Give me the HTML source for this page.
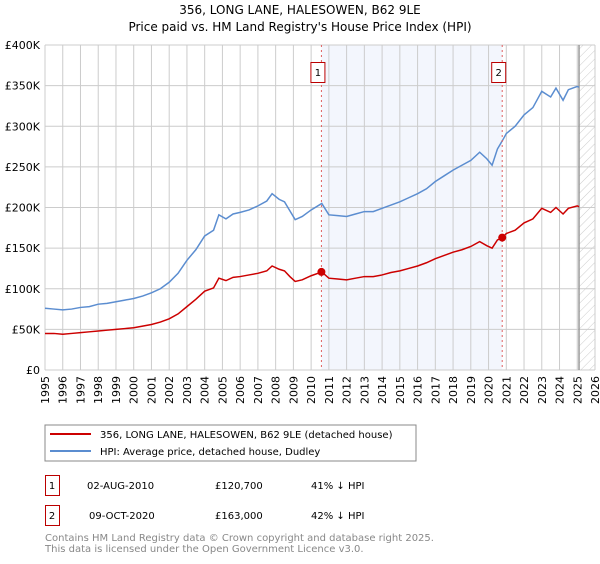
<!DOCTYPE html>
<html><head><meta charset="utf-8"><style>
body{margin:0;background:#fff;font-family:"DejaVu Sans","Liberation Sans",sans-serif;}
svg text{font-family:"DejaVu Sans","Liberation Sans",sans-serif;}
</style></head><body>
<svg id="c" width="600" height="560" xmlns="http://www.w3.org/2000/svg">
<defs><pattern id="hatch" width="6" height="6" patternUnits="userSpaceOnUse" patternTransform="rotate(45)"><line x1="0" y1="0" x2="0" y2="6" stroke="#ccc" stroke-width="1"/></pattern></defs>
<text x="300" y="14" text-anchor="middle" font-size="12">356, LONG LANE, HALESOWEN, B62 9LE</text>
<text x="300" y="31" text-anchor="middle" font-size="12">Price paid vs. HM Land Registry's House Price Index (HPI)</text>
<g id="plot"></g>
<rect x="45" y="425" width="371" height="36" fill="#fff" stroke="#888"/>
<line x1="50" y1="434" x2="91" y2="434" stroke="#cc0000" stroke-width="2"/>
<text x="100" y="438" font-size="10">356, LONG LANE, HALESOWEN, B62 9LE (detached house)</text>
<line x1="50" y1="451" x2="91" y2="451" stroke="#5b8dd0" stroke-width="2"/>
<text x="100" y="455" font-size="10">HPI: Average price, detached house, Dudley</text>
<g font-size="10">
<rect x="45.5" y="475.5" width="14" height="20" fill="none" stroke="#b00"/>
<text x="52" y="489" text-anchor="middle">1</text>
<text x="87" y="489">02-AUG-2010</text><text x="215" y="489">£120,700</text><text x="311" y="489">41% ↓ HPI</text>
<rect x="45.5" y="505.5" width="14" height="20" fill="none" stroke="#b00"/>
<text x="52" y="519" text-anchor="middle">2</text>
<text x="89" y="519">09-OCT-2020</text><text x="215" y="519">£163,000</text><text x="311" y="519">42% ↓ HPI</text>
</g>
<text x="45" y="541" font-size="10" fill="#888">Contains HM Land Registry data © Crown copyright and database right 2025.</text>
<text x="45" y="552" font-size="10" fill="#888">This data is licensed under the Open Government Licence v3.0.</text>
</svg>
<script>
const years=[1995,1995.5,1996,1996.5,1997,1997.5,1998,1998.5,1999,1999.5,2000,2000.5,2001,2001.5,2002,2002.5,2003,2003.5,2004,2004.5,2004.8,2005.2,2005.6,2006,2006.5,2007,2007.5,2007.8,2008.2,2008.5,2008.8,2009.1,2009.5,2010,2010.6,2011,2011.5,2012,2012.5,2013,2013.5,2014,2014.5,2015,2015.5,2016,2016.5,2017,2017.5,2018,2018.5,2019,2019.5,2019.9,2020.2,2020.5,2020.8,2021,2021.5,2022,2022.5,2023,2023.5,2023.8,2024.2,2024.5,2025,2025.1];
const hpi=[76,75,74,75,77,78,81,82,84,86,88,91,95,100,108,119,135,148,165,172,191,186,192,194,197,202,208,217,210,207,196,185,189,197,205,191,190,189,192,195,195,199,203,207,212,217,223,232,239,246,252,258,268,260,252,272,283,291,300,314,323,343,336,347,332,345,349,348];
const price=[45,45,44,45,46,47,48,49,50,51,52,54,56,59,63,69,78,87,97,101,113,110,114,115,117,119,122,128,124,122,115,109,111,116,120.7,113,112,111,113,115,115,117,120,122,125,128,132,137,141,145,148,152,158,153,150,160,163,168,172,181,186,199,194,200,192,199,202,201];
const yTicks=[0,50,100,150,200,250,300,350,400];
const yLabels=["£0","£50K","£100K","£150K","£200K","£250K","£300K","£350K","£400K"];
const xTicks=[1995,1996,1997,1998,1999,2000,2001,2002,2003,2004,2005,2006,2007,2008,2009,2010,2011,2012,2013,2014,2015,2016,2017,2018,2019,2020,2021,2022,2023,2024,2025,2026];
const sales=[{n:"1",t:2010.58,v:120.7},{n:"2",t:2020.77,v:163}];
const X=t=>45+(t-1995)*(550/31), Y=v=>370-v*(325/400);
const NS="http://www.w3.org/2000/svg", g=document.getElementById('plot');
function mk(tag,a,p){const e=document.createElementNS(NS,tag);for(const k in a)e.setAttribute(k,a[k]);(p||g).appendChild(e);return e;}
let e=mk('rect',{x:X(sales[0].t),y:45,width:X(sales[1].t)-X(sales[0].t),height:325,fill:'#eef2fc',opacity:0.7});


e=mk('rect',{x:X(2025.1),y:45,width:595-X(2025.1),height:325,fill:'url(#hatch)'});


yTicks.forEach((v,i)=>{
 e=mk('line',{x1:45,x2:595,y1:Y(v),y2:Y(v),stroke:'#ccc'});
 
 
 e=mk('text',{x:40,y:Y(v)+4,'text-anchor':'end','font-size':11});
 e.textContent=yLabels[i];
 
 
});
xTicks.forEach(t=>{
 e=mk('line',{x1:X(t),x2:X(t),y1:45,y2:370,stroke:'#ccc'});
 
 
 e=mk('text',{x:0,y:0,'text-anchor':'end','font-size':11,transform:'translate('+(X(t)+4)+',376) rotate(-90)'});
 e.textContent=t;
 
 
});
e=mk('line',{x1:X(2025.1),x2:X(2025.1),y1:45,y2:370,stroke:'#999','stroke-width':1.5});


e=mk('polyline',{points:years.map((t,i)=>X(t)+','+Y(hpi[i])).join(' '),fill:'none',stroke:'#5b8dd0','stroke-width':1.5});


e=mk('polyline',{points:years.map((t,i)=>X(t)+','+Y(price[i])).join(' '),fill:'none',stroke:'#cc0000','stroke-width':1.5});


sales.forEach(s=>{
 e=mk('line',{x1:X(s.t),x2:X(s.t),y1:45,y2:370,stroke:'#e06060','stroke-dasharray':'2,3'});
 
 
 e=mk('circle',{cx:X(s.t),cy:Y(s.v),r:4,fill:'#cc0000'});
 
 
 e=mk('rect',{x:X(s.t)-10.5,y:62.5,width:14,height:20,fill:'#fff',stroke:'#b00'});
 
 
 e=mk('text',{x:X(s.t)-3.5,y:76,'text-anchor':'middle','font-size':10});
 e.textContent=s.n;
 
 
});
</script>
</body></html>
